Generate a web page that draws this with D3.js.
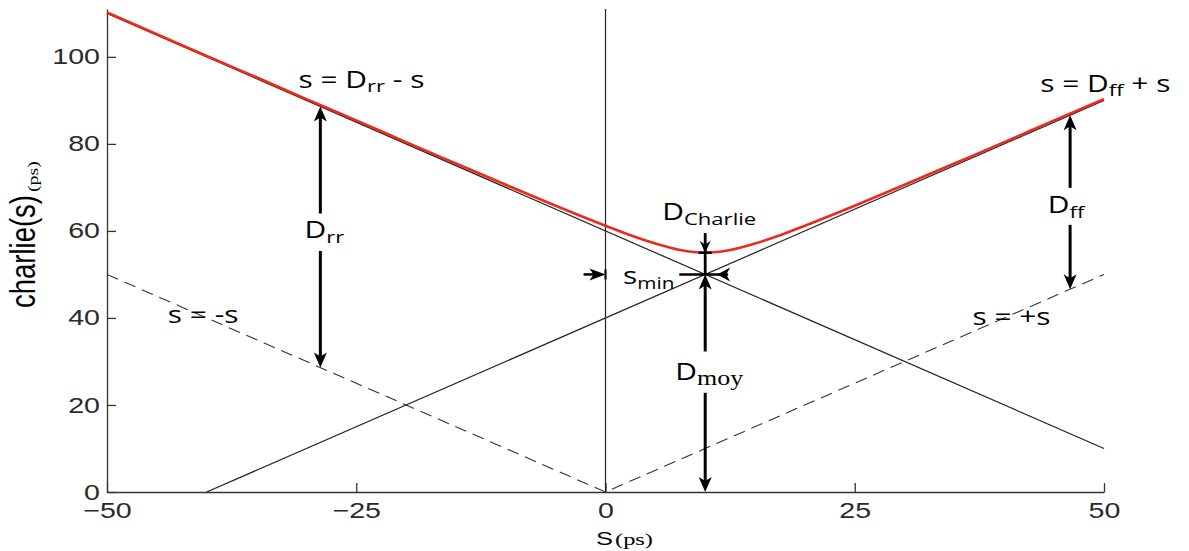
<!DOCTYPE html>
<html>
<head>
<meta charset="utf-8">
<script src="https://cdn.jsdelivr.net/npm/d3@7"></script>
<style>
  body { margin: 0; background: #fff; }
  svg { display: block; }
</style>
</head>
<body>
<svg id="chart" width="1189" height="551"></svg>
<script>
// ---- data ----
const sDomain = [-50, 50];
const cDomain = [0, 111];
const xTicks = [-50, -25, 0, 25, 50];
const yTicks = [0, 20, 40, 60, 80, 100];

// charlie(s) curve (red)
const charlieS    = [-50, -45, -40, -35, -30, -25, -20, -15, -10, -5, 0, 2.5, 5, 7.5, 10, 12.5, 15, 17.5, 20, 25, 30, 35, 40, 45, 50];
const charlieVals = [110.2, 105.2, 100.2, 95.3, 90.3, 85.4, 80.4, 75.5, 70.6, 65.8, 61.2, 59.0, 57.1, 55.6, 55.0, 55.6, 57.1, 59.0, 61.2, 65.8, 70.6, 75.5, 80.4, 85.4, 90.3];

// asymptotes and guides
const drrLineS = [-50, 50],    drrLineVals = [110, 10];   // s = Drr - s
const dffLineS = [-40, 50],    dffLineVals = [0, 90];     // s = Dff + s
const absLineS = [-50, 0, 50], absLineVals = [50, 0, 50]; // s = -s / s = +s
const zeroLineS = [0, 0],      zeroLineVals = [0, 111];

// double-headed dimension arrows: Drr, Dff, Dmoy
const dimNames   = ["rr", "ff", "moy"];
const dimS       = [-28.6, 46.6, 10];
const dimLow     = [28.6, 46.6, 0];
const dimHigh    = [88.6, 86.6, 50];
const dimGapLow  = [55.4, 61.4, 22.8];
const dimGapHigh = [64.0, 69.9, 32.3];
const dimLabelS  = [-28.2, 46.2, 10.4];
const dimLabelV  = [58.4, 64.1, 25.7];

// D_Charlie and s_min markers
const sMin = 10, cMin = 55.0, cCross = 50;

const svg = d3.select("#chart");
const x = d3.scaleLinear().domain(sDomain).range([107, 1104]);
const y = d3.scaleLinear().domain(cDomain).range([492, 9]);
const stretch = 1.3; // the figure's lettering is wide

const toPts = (ss, vs) => ss.map((s, i) => [s, vs[i]]);
const line = d3.line().x(d => x(d[0])).y(d => y(d[1]));

// ---- axes ----
const xAxis = d3.axisBottom(x).tickValues(xTicks).tickSizeInner(-9).tickSizeOuter(0).tickPadding(10);
const yAxis = d3.axisLeft(y).tickValues(yTicks).tickSizeInner(-9).tickSizeOuter(0).tickPadding(7);

const gx = svg.append("g").attr("transform", `translate(0,${y(0)})`).call(xAxis);
const gy = svg.append("g").attr("transform", `translate(${x(-50)},0)`).call(yAxis);
[gx, gy].forEach(g => {
  g.select(".domain").attr("stroke", "#333").attr("stroke-width", 1.3);
  g.selectAll(".tick line").attr("stroke", "#333").attr("stroke-width", 1.3);
  g.selectAll(".tick text")
    .attr("fill", "#2a2a2a")
    .attr("transform", `scale(${stretch},1)`)
    .style("font-family", "'Liberation Sans', Arial, sans-serif")
    .style("font-size", "22px");
});
gy.selectAll(".tick text").attr("x", -7 / stretch);

// axis titles
const xt = svg.append("text")
  .attr("x", 596).attr("y", 545)
  .style("font-family", "'Liberation Sans', Arial, sans-serif");
xt.append("tspan").attr("font-size", 19).attr("textLength", 17).attr("lengthAdjust", "spacingAndGlyphs").text("S");
xt.append("tspan").attr("dx", 2).attr("font-size", 16)
  .attr("textLength", 38).attr("lengthAdjust", "spacingAndGlyphs")
  .style("font-family", "'Liberation Serif', 'Times New Roman', serif").text("(ps)");

const yt = svg.append("text")
  .attr("transform", `translate(35,308) rotate(-90) scale(1,${stretch})`)
  .style("font-family", "'Liberation Sans', Arial, sans-serif");
yt.append("tspan").attr("font-size", 27.5)
  .attr("textLength", 113).attr("lengthAdjust", "spacingAndGlyphs").text("charlie(s)");
yt.append("tspan").attr("dx", 3).attr("dy", 2).attr("font-size", 12)
  .attr("textLength", 31).attr("lengthAdjust", "spacingAndGlyphs")
  .style("font-family", "'Liberation Serif', 'Times New Roman', serif").text("(ps)");

// ---- guide lines ----
const lines = svg.append("g").attr("fill", "none");
lines.append("path").attr("d", line(toPts(zeroLineS, zeroLineVals))).attr("stroke", "#222").attr("stroke-width", 1.2);
lines.append("path").attr("d", line(toPts(drrLineS, drrLineVals))).attr("stroke", "#222").attr("stroke-width", 1.2);
lines.append("path").attr("d", line(toPts(dffLineS, dffLineVals))).attr("stroke", "#222").attr("stroke-width", 1.2);
lines.append("path").attr("d", line(toPts(absLineS, absLineVals)))
  .attr("stroke", "#333").attr("stroke-width", 1.1).attr("stroke-dasharray", "12,7");

// red charlie curve
lines.append("path")
  .attr("d", line.curve(d3.curveMonotoneX)(toPts(charlieS, charlieVals)))
  .attr("stroke", "#ee2a1e").attr("stroke-width", 2.6);
line.curve(d3.curveLinear);

// ---- arrows ----
const ann = svg.append("g");

function head(tx, ty, dx, dy, L, W) {
  const n = Math.hypot(dx, dy); dx /= n; dy /= n;
  const px = -dy, py = dx;
  const pts = [
    [tx, ty],
    [tx - L * dx + W * px, ty - L * dy + W * py],
    [tx - (L - 4) * dx, ty - (L - 4) * dy],
    [tx - L * dx - W * px, ty - L * dy - W * py]
  ];
  ann.append("path").attr("d", "M" + pts.join("L") + "Z").attr("fill", "#000");
}
function seg(x1, y1, x2, y2, w) {
  ann.append("line").attr("x1", x1).attr("y1", y1).attr("x2", x2).attr("y2", y2)
    .attr("stroke", "#000").attr("stroke-width", w);
}

const fontMain = "'Open Sans', 'DejaVu Sans', sans-serif";
const serif = "'Liberation Serif', 'Times New Roman', serif";

// text at (s, value), widened like the figure's lettering
function label(s, v, anchor) {
  return ann.append("text")
    .attr("transform", `translate(${x(s)},${y(v)}) scale(${stretch},1)`)
    .attr("text-anchor", anchor)
    .style("font-family", fontMain).attr("font-size", 23).attr("fill", "#000");
}

dimS.forEach((s, i) => {
  const px = x(s);
  seg(px, y(dimHigh[i]) + 8, px, y(dimGapHigh[i]), 3);
  seg(px, y(dimGapLow[i]), px, y(dimLow[i]) - 8, 3);
  head(px, y(dimHigh[i]), 0, -1, 15, 6.5);
  head(px, y(dimLow[i]), 0, 1, 15, 6.5);
  const t = label(dimLabelS[i], dimLabelV[i], "middle");
  t.append("tspan").text("D");
  const sub = t.append("tspan").attr("dy", 5).text(dimNames[i]);
  if (dimNames[i] === "moy") sub.attr("font-size", 20).style("font-family", serif);
  else sub.attr("font-size", 17);
});

// D_Charlie: arrow down onto the curve minimum, then on to the crossing
const mx = x(sMin);
seg(mx, y(59.5), mx, y(cCross), 2.8);
head(mx, y(cMin), 0, 1, 12, 5.5);
seg(mx - 6.5, y(cMin), mx + 6.5, y(cMin), 2.5);
const dc = label(10.4, 62.5, "middle");
dc.append("tspan").text("D");
dc.append("tspan").attr("dy", 5).attr("font-size", 17).text("Charlie");

// s_min: from s = 0 to the crossing
const cy = y(cCross);
seg(x(-2.2), cy, x(0) - 4, cy, 2.5);
head(x(0), cy, 1, 0, 16, 6);
seg(x(0), cy - 5, x(0), cy + 5, 2);
seg(x(7.4), cy, x(12.3), cy, 2.5);
head(x(11.2), cy, -1, 0, 13, 7);
const sm = label(1.75, 47.9, "start");
sm.append("tspan").text("s");
sm.append("tspan").attr("dy", 5).attr("font-size", 16).text("min");

// equation labels
function eq(s, v, parts) {
  const t = label(s, v, "start").attr("font-size", 23);
  parts.forEach(p => {
    const ts = t.append("tspan").text(p[0]);
    if (p[1]) ts.attr("font-size", 17).attr("dy", 4);
    if (p[2]) ts.attr("dy", -4);
  });
}
eq(-30.8, 92.9, [["s = D"], ["rr", true], [" - s", false, true]]);
eq(43.6, 91.9, [["s = D"], ["ff", true], [" + s", false, true]]);
eq(-43.9, 38.8, [["s = -s"]]);
eq(36.8, 38.4, [["s = +s"]]);
</script>
</body>
</html>
